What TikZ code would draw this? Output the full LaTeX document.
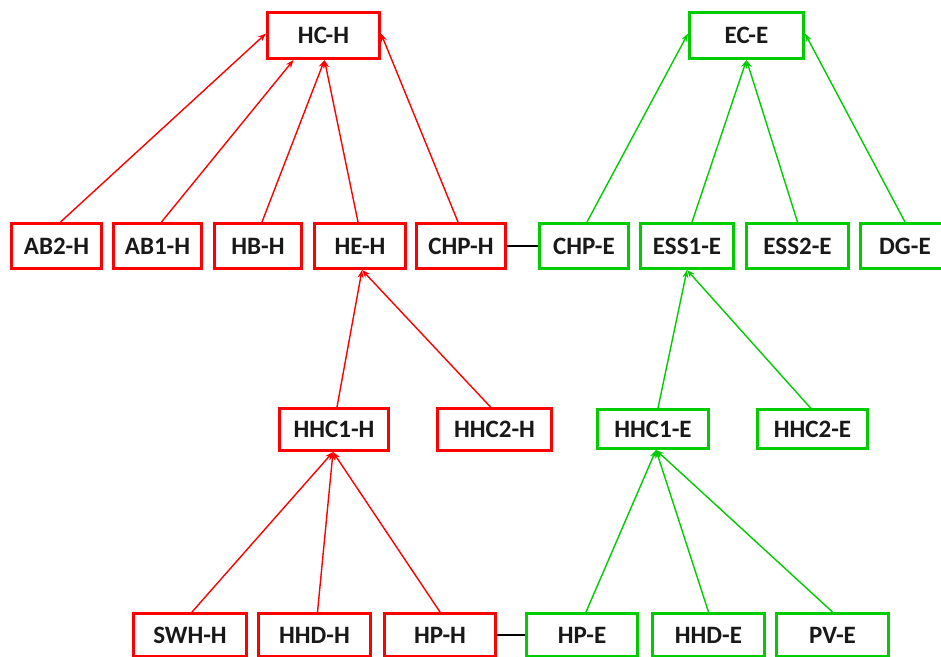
\documentclass[tikz,border=0pt]{standalone}
\usepackage{fontspec}
\setmainfont{Carlito}
\usetikzlibrary{arrows.meta}
\definecolor{heatred}{RGB}{255,0,0}
\definecolor{elecgreen}{RGB}{0,204,0}
\tikzset{
  unit/.style={draw, line width=3pt, fill=white, inner sep=0pt,
    font=\fontsize{25}{30}\selectfont\bfseries, text=black!90},
  hbox/.style={unit, draw=heatred},
  ebox/.style={unit, draw=elecgreen},
  hflow/.style={draw=heatred, line width=1.4pt, -{Stealth[length=8pt,width=6pt]}},
  eflow/.style={draw=elecgreen, line width=1.4pt, -{Stealth[length=8pt,width=6pt]}},
  link/.style={draw=black, line width=1.4pt},
}
\begin{document}
\begin{tikzpicture}[x=1pt, y=-1pt]
\useasboundingbox (0,0) rectangle (941,656);

% top level
\node[hbox, minimum width=112pt, minimum height=46pt] (hch) at (323.5,35.5) {HC-H};
\node[ebox, minimum width=114pt, minimum height=46pt] (ece) at (746.5,35.5) {EC-E};

% second row
\node[hbox, minimum width=90pt, minimum height=45pt] (ab2h) at (56.5,246) {AB2-H};
\node[hbox, minimum width=88pt, minimum height=45pt] (ab1h) at (157.5,246) {AB1-H};
\node[hbox, minimum width=87pt, minimum height=45pt] (hbh) at (258,246) {HB-H};
\node[hbox, minimum width=91pt, minimum height=45pt] (heh) at (360,246) {HE-H};
\node[hbox, minimum width=89pt, minimum height=45pt] (chph) at (461,246) {CHP-H};
\node[ebox, minimum width=89pt, minimum height=45pt] (chpe) at (584,246) {CHP-E};
\node[ebox, minimum width=93pt, minimum height=45pt] (ess1e) at (687,246) {ESS1-E};
\node[ebox, minimum width=102pt, minimum height=45pt] (ess2e) at (797.5,246) {ESS2-E};
\node[ebox, minimum width=89pt, minimum height=45pt] (dge) at (905,246) {DG-E};

% third row
\node[hbox, minimum width=109pt, minimum height=42pt] (hhc1h) at (334,429.5) {HHC1-H};
\node[hbox, minimum width=114pt, minimum height=42pt] (hhc2h) at (494.5,429.5) {HHC2-H};
\node[ebox, minimum width=111pt, minimum height=39pt] (hhc1e) at (653,429) {HHC1-E};
\node[ebox, minimum width=110pt, minimum height=39pt] (hhc2e) at (812.5,429) {HHC2-E};

% bottom row
\node[hbox, minimum width=113pt, minimum height=43pt] (swhh) at (190,635) {SWH-H};
\node[hbox, minimum width=112pt, minimum height=43pt] (hhdh) at (314.5,635) {HHD-H};
\node[hbox, minimum width=111pt, minimum height=43pt] (hph) at (440,635) {HP-H};
\node[ebox, minimum width=111pt, minimum height=43pt] (hpe) at (582,635) {HP-E};
\node[ebox, minimum width=112pt, minimum height=43pt] (hhde) at (708.5,635) {HHD-E};
\node[ebox, minimum width=112pt, minimum height=43pt] (pve) at (832.5,635) {PV-E};

% heat flows
\draw[hflow] ([xshift=4pt]ab2h.north) -- ([yshift=2pt]hch.west);
\draw[hflow] ([xshift=4pt]ab1h.north) -- ([xshift=-30pt]hch.south);
\draw[hflow] ([xshift=4pt]hbh.north) -- ([xshift=1pt]hch.south);
\draw[hflow] ([xshift=-2pt]heh.north) -- ([xshift=1pt]hch.south);
\draw[hflow] ([xshift=-3pt]chph.north) -- ([yshift=2pt]hch.east);
\draw[hflow] ([xshift=3pt]hhc1h.north) -- ([xshift=2pt]heh.south);
\draw[hflow] ([xshift=-4pt]hhc2h.north) -- ([xshift=2pt]heh.south);
\draw[hflow] ([xshift=2pt]swhh.north) -- ([xshift=-1pt]hhc1h.south);
\draw[hflow] ([xshift=3pt]hhdh.north) -- ([xshift=-1pt]hhc1h.south);
\draw[hflow] (hph.north) -- ([xshift=-1pt]hhc1h.south);

% electricity flows
\draw[eflow] ([xshift=3pt]chpe.north) -- ([yshift=2pt]ece.west);
\draw[eflow] ([xshift=5pt]ess1e.north) -- (ece.south);
\draw[eflow] (ess2e.north) -- (ece.south);
\draw[eflow] (dge.north) -- ([yshift=2pt]ece.east);
\draw[eflow] ([xshift=5pt]hhc1e.north) -- (ess1e.south);
\draw[eflow] ([xshift=-2pt]hhc2e.north) -- (ess1e.south);
\draw[eflow] ([xshift=4pt]hpe.north) -- ([xshift=3pt]hhc1e.south);
\draw[eflow] (hhde.north) -- ([xshift=3pt]hhc1e.south);
\draw[eflow] (pve.north) -- ([xshift=3pt]hhc1e.south);

% coupling between heat and electricity units
\draw[link] (chph.east) -- (chpe.west);
\draw[link] (hph.east) -- (hpe.west);
\end{tikzpicture}
\end{document}
